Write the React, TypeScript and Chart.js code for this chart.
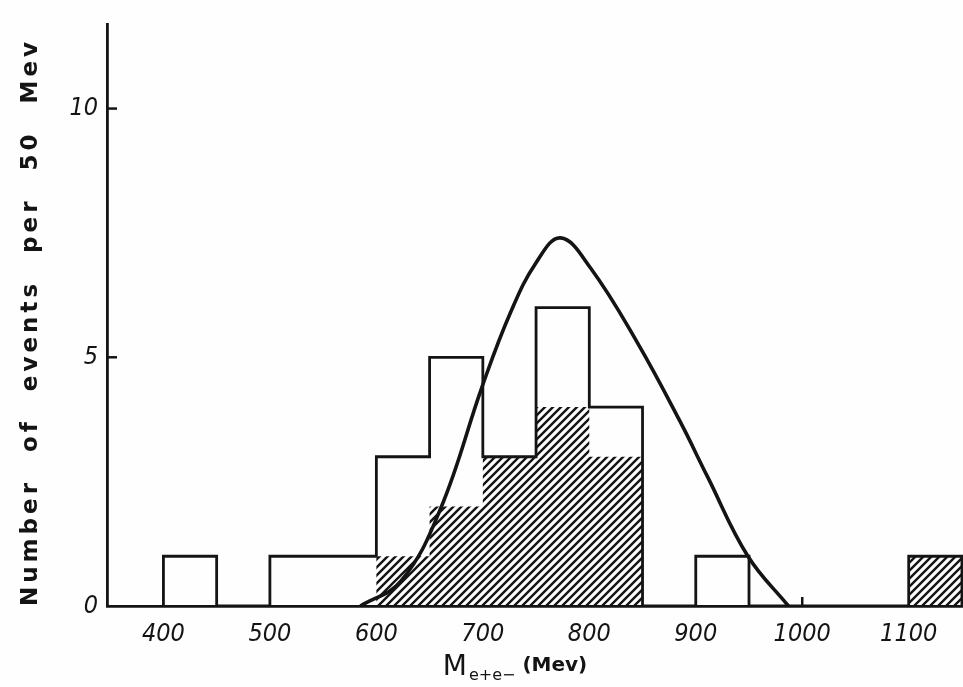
import React, { useEffect, useRef } from "react";
import { Chart, registerables } from "chart.js";

Chart.register(...registerables);

// ---- data ----
const binStarts = [400, 450, 500, 550, 600, 650, 700, 750, 800, 850, 900, 950, 1000, 1050, 1100];
const binWidth = 50;
const totalCounts = [1, 0, 1, 1, 3, 5, 3, 6, 4, 0, 1, 0, 0, 0, 1];
const hatchedCounts = [0, 0, 0, 0, 1, 2, 3, 4, 3, 0, 0, 0, 0, 0, 1];
const curveMass = [585, 623, 660, 700, 726, 750, 773, 801, 845, 885, 911, 949, 987];
const curveValue = [0, 0.5, 1.94, 4.45, 5.9, 6.9, 7.4, 6.8, 5.3, 3.72, 2.6, 1.0, 0];
const xTickValues = [400, 500, 600, 700, 800, 900, 1000, 1100];
const yTickValues = [0, 5, 10];
const yTickMarks = [5, 10];
const xTickMarks = [1000];
const yTitleWords = ["Number", "of", "events", "per", "50", "Mev"];
const xTitleMain = "M";
const xTitleSub = "e+e\u2212";
const xTitleUnit = " (Mev)";

const INK = "#141414";

function stepPoints(counts: number[]) {
  const pts: { x: number; y: number }[] = [{ x: binStarts[0], y: 0 }];
  counts.forEach((c, i) => pts.push({ x: binStarts[i], y: c }));
  pts.push({ x: binStarts[binStarts.length - 1] + binWidth, y: 0 });
  return pts;
}

function makeHatch(ctx: CanvasRenderingContext2D) {
  const s = 8;
  const c = document.createElement("canvas");
  c.width = s;
  c.height = s;
  const g = c.getContext("2d")!;
  g.strokeStyle = INK;
  g.lineWidth = 2.4;
  g.beginPath();
  g.moveTo(-2, s + 2);
  g.lineTo(s + 2, -2);
  g.moveTo(-2, 2);
  g.lineTo(2, -2);
  g.moveTo(s - 2, s + 2);
  g.lineTo(s + 2, s - 2);
  g.stroke();
  return ctx.createPattern(c, "repeat")!;
}

const decor = {
  id: "decor",
  afterDraw(chart: any) {
    const { ctx, chartArea, scales } = chart;
    const xs = scales.x;
    const ys = scales.y;
    ctx.save();
    ctx.strokeStyle = INK;
    ctx.lineWidth = 2.5;
    yTickMarks.forEach((v) => {
      const py = ys.getPixelForValue(v);
      ctx.beginPath();
      ctx.moveTo(chartArea.left, py);
      ctx.lineTo(chartArea.left + 10, py);
      ctx.stroke();
    });
    xTickMarks.forEach((v) => {
      const px = xs.getPixelForValue(v);
      ctx.beginPath();
      ctx.moveTo(px, chartArea.bottom);
      ctx.lineTo(px, chartArea.bottom - 9);
      ctx.stroke();
    });
    ctx.restore();

    // y title: words spread along the axis
    ctx.save();
    ctx.fillStyle = INK;
    ctx.translate(31, 322);
    ctx.rotate(-Math.PI / 2);
    ctx.font = 'bold 23px "DejaVu Sans", sans-serif';
    (ctx as any).letterSpacing = "4px";
    ctx.textAlign = "left";
    ctx.textBaseline = "middle";
    const widths = yTitleWords.map((w) => ctx.measureText(w).width);
    const span = 568;
    const gap = (span - widths.reduce((a, b) => a + b, 0)) / (yTitleWords.length - 1);
    let px = -span / 2;
    yTitleWords.forEach((w, i) => {
      ctx.fillText(w, px, 0);
      px += widths[i] + gap;
    });
    ctx.restore();

    // x title
    ctx.save();
    ctx.fillStyle = INK;
    ctx.textBaseline = "alphabetic";
    ctx.textAlign = "left";
    const fMain = '28px "DejaVu Sans", sans-serif';
    const fSub = '16px "DejaVu Sans", sans-serif';
    const fUnit = 'bold 20px "DejaVu Sans", sans-serif';
    ctx.font = fMain;
    const wM = ctx.measureText(xTitleMain).width;
    ctx.font = fSub;
    const wS = ctx.measureText(xTitleSub).width;
    ctx.font = fUnit;
    const wU = ctx.measureText(xTitleUnit).width;
    const total = wM + 2 + wS + wU;
    let x0 = 515 - total / 2;
    const base = 675;
    ctx.font = fMain;
    ctx.fillText(xTitleMain, x0, base);
    x0 += wM + 2;
    ctx.font = fSub;
    ctx.fillText(xTitleSub, x0, base + 5);
    x0 += wS;
    ctx.font = fUnit;
    ctx.fillText(xTitleUnit, x0, base - 4);
    ctx.restore();
  },
};

export default function App() {
  const ref = useRef<HTMLCanvasElement>(null);
  useEffect(() => {
    const canvas = ref.current!;
    const ctx = canvas.getContext("2d")!;
    const hatch = makeHatch(ctx);
    const tickFont = { family: "'DejaVu Sans Condensed', 'DejaVu Sans', sans-serif", size: 25, style: "italic" as const };
    const chart = new Chart(canvas, {
      type: "line",
      data: {
        datasets: [
          {
            label: "curve",
            data: curveMass.map((m, i) => ({ x: m, y: curveValue[i] })),
            borderColor: INK,
            borderWidth: 3.6,
            pointRadius: 0,
            tension: 0.4,
            fill: false,
          },
          {
            label: "all events",
            data: stepPoints(totalCounts),
            borderColor: INK,
            borderWidth: 2.8,
            pointRadius: 0,
            stepped: true,
            fill: false,
            borderJoinStyle: "miter",
          },
          {
            label: "selected events",
            data: stepPoints(hatchedCounts),
            borderColor: "rgba(0,0,0,0)",
            borderWidth: 0,
            pointRadius: 0,
            stepped: true,
            fill: "origin",
            backgroundColor: hatch,
          },
        ],
      },
      options: {
        animation: false,
        responsive: false,
        maintainAspectRatio: false,
        layout: { padding: { top: 18, right: 0, left: 0, bottom: 0 } },
        plugins: { legend: { display: false }, tooltip: { enabled: false } },
        scales: {
          x: {
            type: "linear",
            min: 347,
            max: 1151,
            afterFit: (s: any) => {
              s.height = 81;
            },
            afterBuildTicks: (s: any) => {
              s.ticks = xTickValues.map((v) => ({ value: v }));
            },
            grid: { display: false, drawTicks: false },
            border: { display: true, color: INK, width: 2.8 },
            ticks: {
              color: INK,
              font: tickFont,
              padding: 13,
              maxRotation: 0,
              autoSkip: false,
              callback: (v: any) => String(v),
            },
          },
          y: {
            type: "linear",
            min: 0,
            max: 11.7,
            afterFit: (s: any) => {
              s.width = 107;
            },
            afterBuildTicks: (s: any) => {
              s.ticks = yTickValues.map((v) => ({ value: v }));
            },
            grid: { display: false, drawTicks: false },
            border: { display: true, color: INK, width: 2.8 },
            ticks: { color: INK, font: tickFont, padding: 9, callback: (v: any) => String(v) },
          },
        },
      },
      plugins: [decor],
    });
    return () => chart.destroy();
  }, []);
  return (
    <div style={{ position: "fixed", left: 0, top: 0, width: 963, height: 687, background: "#fefefe" }}>
      <canvas ref={ref} width={963} height={687} style={{ width: 963, height: 687, display: "block" }} />
    </div>
  );
}
